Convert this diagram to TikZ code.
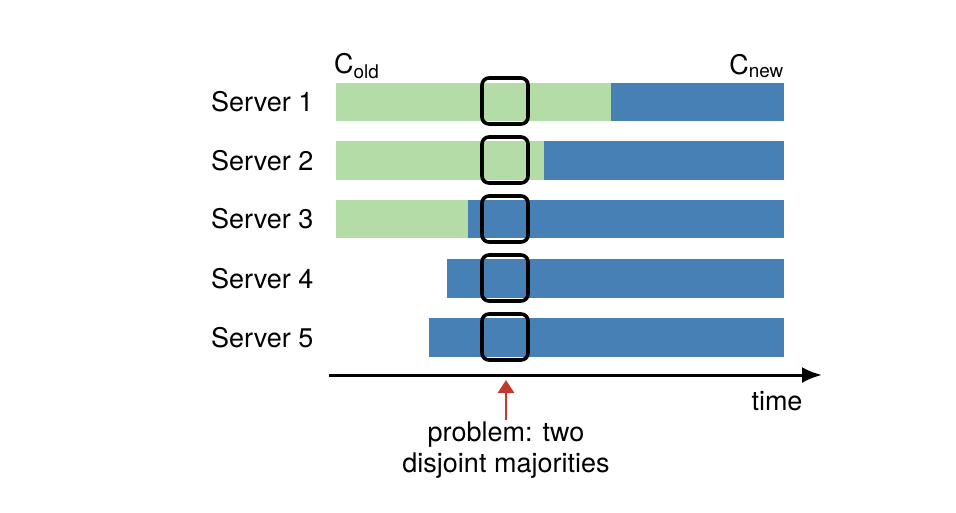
\documentclass[tikz,border=0pt]{standalone}
\usepackage{fontspec}
\setmainfont{TeX Gyre Heros}
\usepackage{tikz}
\usetikzlibrary{arrows.meta}
\definecolor{oldcol}{HTML}{B4DCA6}
\definecolor{newcol}{HTML}{4680B4}
\definecolor{redcol}{HTML}{C0392B}

\begin{document}
\begin{tikzpicture}[x=1pt, y=-1pt, font=\fontsize{27}{31}\selectfont]
\useasboundingbox (0,0) rectangle (956,512);
% bars
\fill[oldcol] (336,83) rectangle (611,121);
\fill[newcol] (611,83) rectangle (784,121);
\fill[oldcol] (336,141) rectangle (544,180);
\fill[newcol] (544,141) rectangle (784,180);
\fill[oldcol] (336,200) rectangle (468,238);
\fill[newcol] (468,200) rectangle (784,238);
\fill[newcol] (447,259) rectangle (784,298);
\fill[newcol] (429,318) rectangle (784,357);
% overlap boxes
\draw[line width=3.6pt, rounded corners=7pt] (482,78) rectangle (528,124);
\draw[line width=3.6pt, rounded corners=7pt] (482,137) rectangle (528,183);
\draw[line width=3.6pt, rounded corners=7pt] (482,196) rectangle (528,242);
\draw[line width=3.6pt, rounded corners=7pt] (482,255) rectangle (528,301);
\draw[line width=3.6pt, rounded corners=7pt] (482,314) rectangle (528,360);
% labels
\node[anchor=east] (s1) at (317,102) {Server 1};
\node[anchor=east] (s2) at (317,160.5) {Server 2};
\node[anchor=east] (s3) at (317,219) {Server 3};
\node[anchor=east] (s4) at (317,278.5) {Server 4};
\node[anchor=east] (s5) at (317,337.5) {Server 5};
\node[anchor=west, inner sep=0pt] (cold) at (334,66) {C\textsubscript{old}};
\node[anchor=east, inner sep=0pt] (cnew) at (784,66) {C\textsubscript{new}};
% time axis
\coordinate (t0) at (329,375);
\coordinate (t1) at (822,375);
\draw[line width=3pt, -{Latex[length=20pt, width=16pt]}] (t0) -- (t1);
\node (time) at (777,401) {time};
% problem
\node[align=center, inner sep=2pt] (prob) at (506,450) {problem: two\\disjoint majorities};
\coordinate (pt) at (506,380);
\draw[redcol, line width=2.8pt, -{Triangle[length=13pt, width=16pt]}] (prob.north) -- (pt);
\end{tikzpicture}
\end{document}
